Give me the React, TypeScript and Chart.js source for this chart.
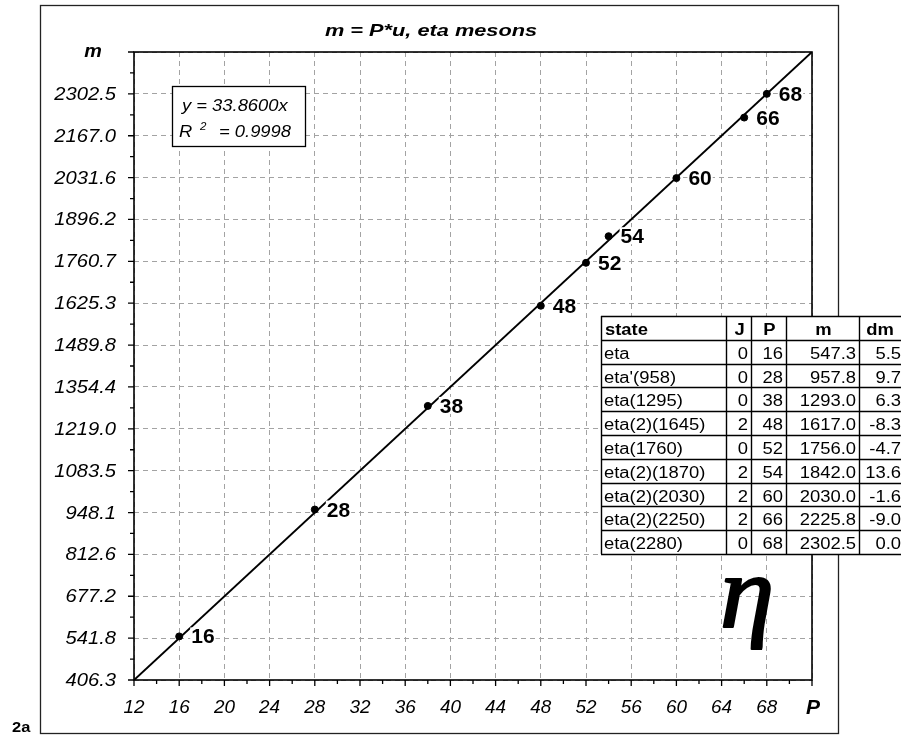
import React, { useEffect, useRef } from "react";
import { Chart, registerables } from "chart.js";

Chart.register(...registerables);

const chartTitle = "m = P*u, eta mesons";
const pValues = [16, 28, 38, 48, 52, 54, 60, 66, 68];
const mValues = [547.3, 957.8, 1293.0, 1617.0, 1756.0, 1842.0, 2030.0, 2225.8, 2302.5];
const stateNames = ["eta", "eta'(958)", "eta(1295)", "eta(2)(1645)", "eta(1760)", "eta(2)(1870)", "eta(2)(2030)", "eta(2)(2250)", "eta(2280)"];
const jValues = ["0", "0", "0", "2", "0", "2", "2", "2", "0"];
const mLabels = ["547.3", "957.8", "1293.0", "1617.0", "1756.0", "1842.0", "2030.0", "2225.8", "2302.5"];
const dmValues = ["5.5", "9.7", "6.3", "-8.3", "-4.7", "13.6", "-1.6", "-9.0", "0.0"];
const tableHeaders = ["state", "J", "P", "m", "dm"];
const fitSlope = 33.86;
const fitText = "y = 33.8600x";
const r2Text = "= 0.9998";
const xTicks = [12, 16, 20, 24, 28, 32, 36, 40, 44, 48, 52, 56, 60, 64, 68, 72];
const xTickLabels = ["12", "16", "20", "24", "28", "32", "36", "40", "44", "48", "52", "56", "60", "64", "68", ""];
const yTicks = [406.32, 541.76, 677.2, 812.64, 948.08, 1083.52, 1218.96, 1354.4, 1489.84, 1625.28, 1760.72, 1896.16, 2031.6, 2167.04, 2302.48, 2437.92];
const yTickLabels = ["406.3", "541.8", "677.2", "812.6", "948.1", "1083.5", "1219.0", "1354.4", "1489.8", "1625.3", "1760.7", "1896.2", "2031.6", "2167.0", "2302.5", ""];

const SANS = "'Liberation Sans', Arial, Helvetica, sans-serif";

function txt(ctx: CanvasRenderingContext2D, s: string, x: number, y: number, font: string, align: string, sx = 1, color = "#000", stroke = 0) {
  ctx.save();
  ctx.font = font;
  const w = ctx.measureText(s).width * sx;
  const left = align === "left" ? x : align === "right" ? x - w : x - w / 2;
  ctx.translate(left, y);
  ctx.scale(sx, 1);
  ctx.textAlign = "left";
  ctx.textBaseline = "alphabetic";
  ctx.fillStyle = color;
  ctx.fillText(s, 0, 0);
  if (stroke > 0) {
    ctx.strokeStyle = color;
    ctx.lineWidth = stroke;
    ctx.lineJoin = "round";
    ctx.strokeText(s, 0, 0);
  }
  ctx.restore();
  return w;
}

const overlay = {
  id: "overlay",
  afterDraw(chart: any) {
    const ctx: CanvasRenderingContext2D = chart.ctx;
    const xs = chart.scales.x;
    const ys = chart.scales.y;
    const a = chart.chartArea;

    // ticks (major + minor)
    ctx.save();
    ctx.strokeStyle = "#000";
    ctx.lineWidth = 1.3;
    ctx.beginPath();
    xTicks.forEach((v, i) => {
      const px = xs.getPixelForValue(v);
      ctx.moveTo(px, a.bottom);
      ctx.lineTo(px, a.bottom + 6);
      if (i < xTicks.length - 1) {
        const mx = xs.getPixelForValue((v + xTicks[i + 1]) / 2);
        ctx.moveTo(mx, a.bottom);
        ctx.lineTo(mx, a.bottom + 4);
      }
    });
    yTicks.forEach((v, i) => {
      const py = ys.getPixelForValue(v);
      ctx.moveTo(a.left, py);
      ctx.lineTo(a.left - 6, py);
      if (i < yTicks.length - 1) {
        const my = ys.getPixelForValue((v + yTicks[i + 1]) / 2);
        ctx.moveTo(a.left, my);
        ctx.lineTo(a.left - 4, my);
      }
    });
    ctx.stroke();
    ctx.restore();

    // plot box
    ctx.save();
    ctx.strokeStyle = "#000";
    ctx.lineWidth = 1.6;
    ctx.strokeRect(a.left, a.top, a.right - a.left, a.bottom - a.top);
    ctx.restore();

    // outer frame
    ctx.save();
    ctx.strokeStyle = "#222";
    ctx.lineWidth = 1.3;
    ctx.strokeRect(40.5, 5.5, 798, 728);
    ctx.restore();

    // tick labels
    xTicks.forEach((v, i) => {
      if (xTickLabels[i]) txt(ctx, xTickLabels[i], xs.getPixelForValue(v), 713, `italic 18px ${SANS}`, "center", 1.05);
    });
    yTicks.forEach((v, i) => {
      if (yTickLabels[i]) txt(ctx, yTickLabels[i], 116, ys.getPixelForValue(v) + 6, `italic 18px ${SANS}`, "right", 1.12);
    });

    // axis names
    txt(ctx, "m", 93, 57, `italic bold 18px ${SANS}`, "center", 1.1);
    txt(ctx, "P", xs.getPixelForValue(72) + 1, 714, `italic bold 20px ${SANS}`, "center", 1.05);

    // title
    txt(ctx, chartTitle, 431, 36, `italic bold 17px ${SANS}`, "center", 1.28);
    txt(ctx, "2a", 12, 732, `bold 15px ${SANS}`, "left", 1.1);

    // point labels
    pValues.forEach((p, i) => {
      const px = xs.getPixelForValue(p) + 12;
      const py = ys.getPixelForValue(mValues[i]) + 7;
      ctx.save();
      ctx.font = `bold 21px ${SANS}`;
      const w = ctx.measureText(String(p)).width;
      ctx.fillStyle = "#fff";
      ctx.fillRect(px - 1, py - 16, w + 2, 17);
      ctx.restore();
      txt(ctx, String(p), px, py, `bold 21px ${SANS}`, "left", 1);
    });

    // equation box
    ctx.save();
    ctx.fillStyle = "#fff";
    ctx.fillRect(172, 86, 133, 60);
    ctx.strokeStyle = "#000";
    ctx.lineWidth = 1.3;
    ctx.strokeRect(172.5, 86.5, 133, 60);
    ctx.restore();
    txt(ctx, fitText, 182, 111, `italic 17px ${SANS}`, "left", 1.08);
    txt(ctx, "R", 179, 137, `italic 17px ${SANS}`, "left", 1.08);
    txt(ctx, "2", 200, 130, `italic 11px ${SANS}`, "left", 1.05);
    txt(ctx, r2Text, 219, 137, `italic 17px ${SANS}`, "left", 1.08);

    // table
    const colX = [601, 726, 751, 786, 859, 906];
    const top = 316;
    const rh = 23.8;
    const nRows = stateNames.length + 1;
    ctx.save();
    ctx.fillStyle = "#fff";
    ctx.fillRect(colX[0], top, colX[5] - colX[0], rh * nRows);
    ctx.strokeStyle = "#000";
    ctx.lineWidth = 1.4;
    ctx.beginPath();
    for (let r = 0; r <= nRows; r++) {
      const y = Math.round(top + r * rh) + 0.5;
      ctx.moveTo(colX[0], y);
      ctx.lineTo(colX[5], y);
    }
    colX.forEach((cx) => {
      ctx.moveTo(cx + 0.5, top);
      ctx.lineTo(cx + 0.5, top + rh * nRows);
    });
    ctx.stroke();
    ctx.restore();
    const hf = `bold 16px ${SANS}`;
    const bf = `16px ${SANS}`;
    const sx = 1.15;
    const hb = top + 19;
    txt(ctx, tableHeaders[0], colX[0] + 4, hb, hf, "left", sx);
    txt(ctx, tableHeaders[1], (colX[1] + colX[2]) / 2 + 1, hb, hf, "center", sx);
    txt(ctx, tableHeaders[2], (colX[2] + colX[3]) / 2 + 1, hb, hf, "center", sx);
    txt(ctx, tableHeaders[3], (colX[3] + colX[4]) / 2 + 1, hb, hf, "center", sx);
    txt(ctx, tableHeaders[4], 880, hb, hf, "center", sx);
    stateNames.forEach((s, i) => {
      const b = top + (i + 1) * rh + 19;
      txt(ctx, s, colX[0] + 3, b, bf, "left", sx);
      txt(ctx, jValues[i], colX[2] - 3, b, bf, "right", sx);
      txt(ctx, String(pValues[i]), colX[3] - 3, b, bf, "right", sx);
      txt(ctx, mLabels[i], colX[4] - 3, b, bf, "right", sx);
      txt(ctx, dmValues[i], 901, b, bf, "right", sx);
    });

    // eta symbol
    txt(ctx, "\u03B7", 720, 627, `italic 104px 'Liberation Serif', 'DejaVu Serif', serif`, "left", 1.05, "#000", 2.2);
  },
};

export default function App() {
  const ref = useRef<HTMLCanvasElement | null>(null);
  useEffect(() => {
    if (!ref.current) return;
    const points = pValues.map((p, i) => ({ x: p, y: mValues[i] }));
    const fitLine = [xTicks[0], xTicks[xTicks.length - 1]].map((x) => ({ x, y: fitSlope * x }));
    const chart = new Chart(ref.current, {
      type: "scatter",
      data: {
        datasets: [
          {
            type: "line",
            data: fitLine,
            borderColor: "#000",
            borderWidth: 2,
            pointRadius: 0,
            fill: false,
          } as any,
          {
            data: points,
            backgroundColor: "#000",
            borderColor: "#000",
            pointRadius: 3.5,
            pointHoverRadius: 3.5,
          },
        ],
      },
      plugins: [overlay],
      options: {
        animation: false,
        responsive: false,
        events: [],
        layout: { padding: { top: 52, right: 89, left: 0, bottom: 0 } },
        plugins: { legend: { display: false }, tooltip: { enabled: false }, title: { display: false } },
        scales: {
          x: {
            type: "linear",
            min: xTicks[0],
            max: xTicks[xTicks.length - 1],
            afterBuildTicks: (s: any) => {
              s.ticks = xTicks.map((v) => ({ value: v }));
            },
            afterFit: (s: any) => {
              s.height = 56;
            },
            ticks: { display: false },
            grid: { color: "#a3a3a3", lineWidth: 1, drawTicks: false, tickLength: 0 },
            border: { display: false, dash: [5, 4] },
          },
          y: {
            type: "linear",
            min: yTicks[0],
            max: yTicks[yTicks.length - 1],
            afterBuildTicks: (s: any) => {
              s.ticks = yTicks.map((v) => ({ value: v }));
            },
            afterFit: (s: any) => {
              s.width = 134;
            },
            ticks: { display: false },
            grid: { color: "#a3a3a3", lineWidth: 1, drawTicks: false, tickLength: 0 },
            border: { display: false, dash: [5, 4] },
          },
        },
      } as any,
    });
    return () => chart.destroy();
  }, []);
  return (
    <div style={{ position: "absolute", left: 0, top: 0, width: 901, height: 736, background: "#fff" }}>
      <canvas ref={ref} width={901} height={736} style={{ display: "block" }} />
    </div>
  );
}
